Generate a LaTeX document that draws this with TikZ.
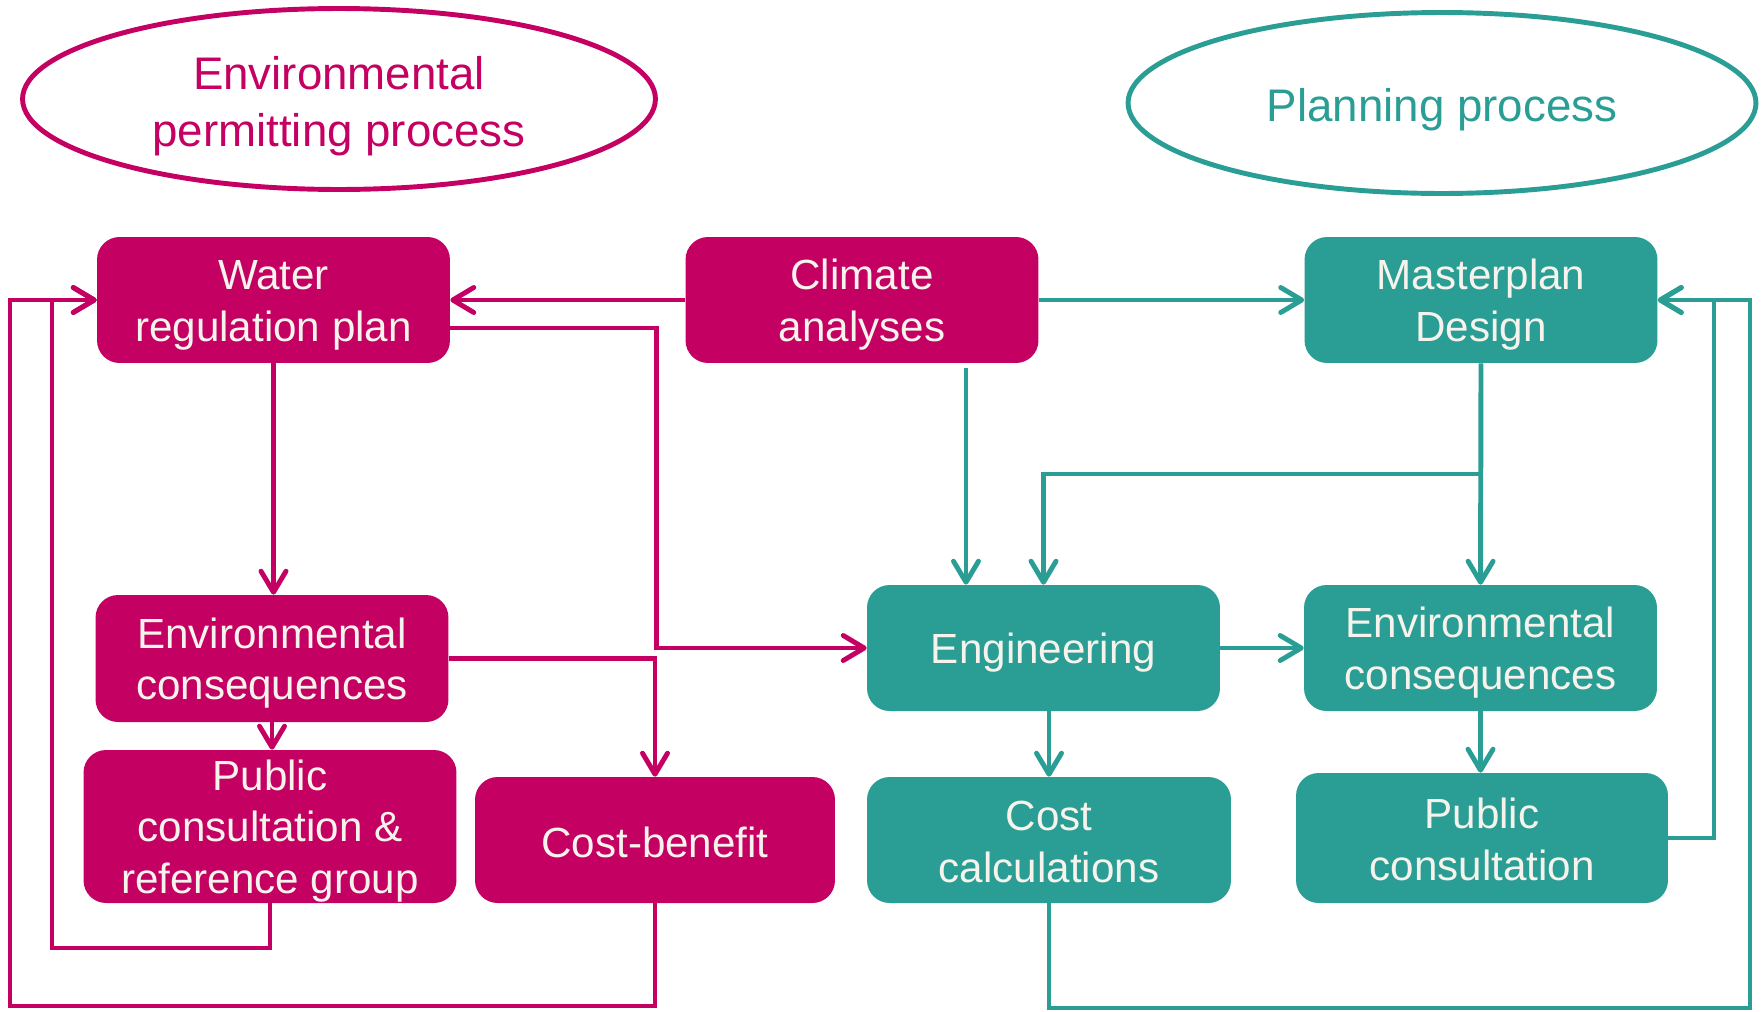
\documentclass[tikz,border=0pt]{standalone}
\usepackage{fontspec}
\setmainfont{Liberation Sans}
\usetikzlibrary{arrows.meta,shapes.geometric}
\definecolor{permitpink}{RGB}{196,0,98}
\definecolor{planteal}{RGB}{42,158,148}
\definecolor{boxtext}{RGB}{246,243,236}
\newcommand{\tstrut}{\rule{0pt}{0.94em}}
\newcommand{\lowstrut}{\rule{0pt}{0.8em}}

\begin{document}
\begin{tikzpicture}[x=0.02cm, y=-0.02cm,
  box/.style={rectangle, rounded corners=0.45cm, inner sep=0pt, align=center, text=boxtext, font=\fontsize{24}{29.5}\selectfont, minimum width=7.06cm, minimum height=2.52cm},
  pinkbox/.style={box, fill=permitpink},
  tealbox/.style={box, fill=planteal},
  oval/.style={ellipse, draw, line width=2.8pt, inner sep=0pt, align=center, font=\fontsize{26}{32.5}\selectfont, minimum width=12.6cm, minimum height=3.62cm},
  link/.style={line width=2.8pt, -{Straight Barb[length=0.42cm, width=0.5cm, round]}},
  pinklink/.style={link, permitpink},
  teallink/.style={link, planteal}]
  \useasboundingbox (0,0) rectangle (1763,1011);
  \node[oval, draw=permitpink, text=permitpink, minimum width=12.66cm] (permit) at (339,99) {\rule{0pt}{1.02em}Environmental\\permitting process};
  \node[oval, draw=planteal, text=planteal, minimum width=12.56cm] (planning) at (1442,103) {\rule{0pt}{1.02em}Planning process};
  \node[pinkbox] (water) at (273.5,300) {\tstrut Water\\regulation plan};
  \node[pinkbox] (climate) at (862,300) {\tstrut Climate\\analyses};
  \node[tealbox] (master) at (1481,300) {\tstrut Masterplan\\Design};
  \node[pinkbox, minimum height=2.54cm] (envL) at (272,658.5) {\tstrut Environmental\\consequences};
  \node[pinkbox, minimum width=7.46cm, minimum height=3.06cm] (pubL) at (270,826.5) {\tstrut Public\\consultation \&\\reference group};
  \node[pinkbox, minimum width=7.2cm] (cb) at (655,840) {\rule{0pt}{0.85em}Cost-benefit};
  \node[tealbox] (eng) at (1043.5,648) {\tstrut Engineering};
  \node[tealbox] (envR) at (1480.5,648) {\tstrut Environmental\\consequences};
  \node[tealbox, minimum width=7.28cm] (cost) at (1049,840) {\lowstrut Cost\\calculations};
  \node[tealbox, minimum width=7.44cm, minimum height=2.6cm] (pubR) at (1482,838) {\lowstrut Public\\consultation};
  \coordinate (climate-out) at ([xshift=2.08cm, yshift=-0.1cm]climate.south);
  \coordinate (split) at (master.south |- 0,474);
  \draw[pinklink] (climate.west) -- (water.east);
  \draw[pinklink] ([yshift=-0.56cm]water.east) -- ++(206,0) |- (eng.west);
  \draw[pinklink] (water.south) -- (water.south |- envL.north);
  \draw[pinklink] (envL.south) -- (envL.south |- pubL.north);
  \draw[pinklink] (envL.east) -| (cb.north);
  \draw[pinklink] (pubL.south) |- (52,948) |- (water.west);
  \draw[pinklink] (cb.south) |- (10,1006) |- (water.west);
  \draw[teallink] (climate.east) -- (master.west);
  \draw[teallink] (climate-out) -- (climate-out |- eng.north);
  \draw[teallink] (master.south) -- (envR.north);
  \draw[teallink] (split) -| (eng.north);
  \draw[teallink] (eng.east) -- (envR.west);
  \draw[teallink] (cost.north |- eng.south) -- (cost.north);
  \draw[teallink] (envR.south) -- (envR.south |- pubR.north);
  \draw[teallink] (pubR.east) -| (1714,300) -- (master.east);
  \draw[teallink] (cost.south) |- (1750,1008) |- (master.east);
\end{tikzpicture}
\end{document}
